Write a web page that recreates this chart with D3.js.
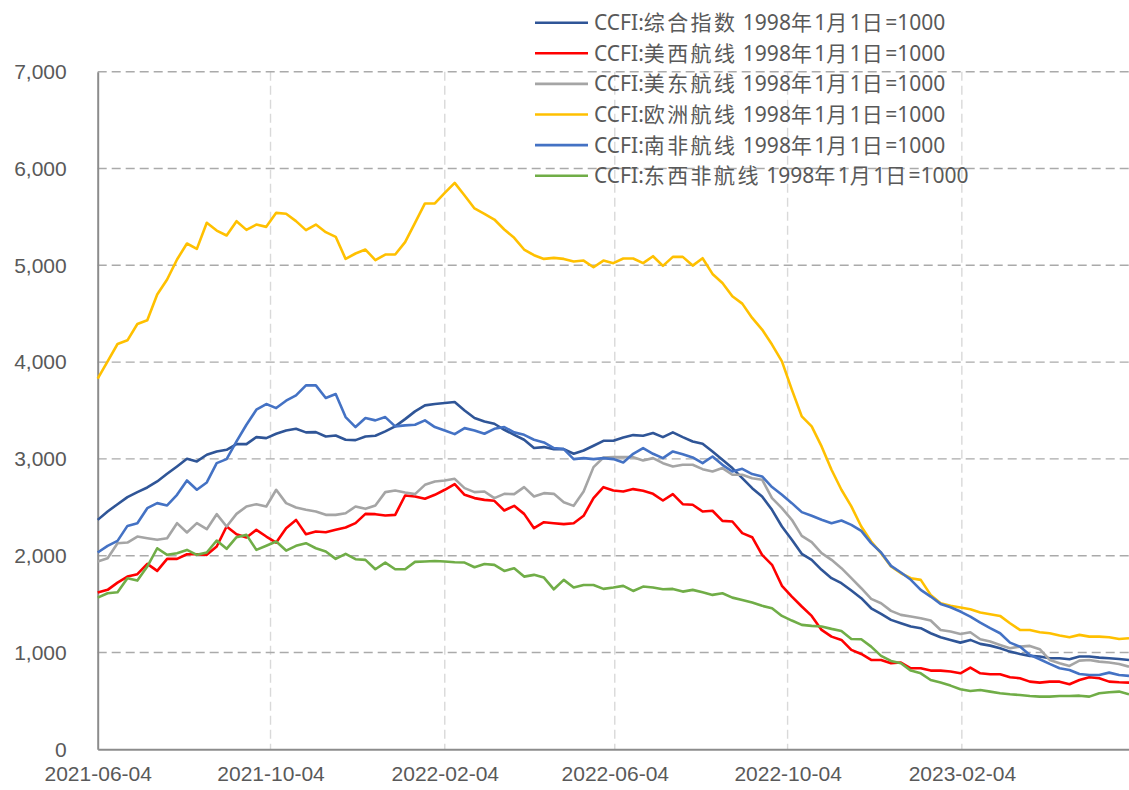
<!DOCTYPE html>
<html>
<head>
<meta charset="utf-8">
<script src="https://cdn.jsdelivr.net/npm/d3@7"></script>
<style>
  html, body { margin: 0; padding: 0; background: #fff; }
  svg { display: block; font-family: "Noto Sans", "Noto Sans CJK SC", sans-serif; }
</style>
</head>
<body>
<svg id="chart" width="1129" height="790"></svg>
<script>
// Weekly CCFI readings (Fridays), 2021-06-04 .. 2023-06-02
const startDate = new Date(2021, 5, 4);
const weekCount = 105;
const dates = d3.range(weekCount).map(i => d3.timeDay.offset(startDate, 7 * i));

const xTickLabels = ["2021-06-04", "2021-10-04", "2022-02-04", "2022-06-04", "2022-10-04", "2023-02-04"];
const yTickValues = [0, 1000, 2000, 3000, 4000, 5000, 6000, 7000];

const seriesNames = [
  "CCFI:综合指数 1998年1月1日=1000",
  "CCFI:美西航线 1998年1月1日=1000",
  "CCFI:美东航线 1998年1月1日=1000",
  "CCFI:欧洲航线 1998年1月1日=1000",
  "CCFI:南非航线 1998年1月1日=1000",
  "CCFI:东西非航线 1998年1月1日=1000"
];
const seriesColors = ["#2F5597", "#FF0000", "#A5A5A5", "#FFC000", "#4472C4", "#70AD47"];

const composite = [
  2370, 2457, 2532, 2605, 2657, 2705, 2767, 2846, 2922, 3001,
  2974, 3043, 3077, 3094, 3153, 3153, 3225, 3215, 3260, 3294,
  3311, 3274, 3277, 3232, 3242, 3198, 3194, 3232, 3239, 3284,
  3336, 3411, 3491, 3553, 3567, 3577, 3587, 3500, 3422, 3387,
  3363, 3301, 3249, 3198, 3112, 3122, 3101, 3101, 3053, 3087,
  3136, 3187, 3187, 3222, 3246, 3239, 3267, 3225, 3274, 3225,
  3180, 3156, 3077, 2991, 2905, 2801, 2698, 2612, 2474, 2302,
  2164, 2019, 1957, 1854, 1768, 1716, 1640, 1561, 1457, 1399,
  1337, 1302, 1268, 1251, 1199, 1158, 1130, 1102, 1130, 1089,
  1071, 1044, 1009, 985, 965, 958, 940, 940, 930, 958,
  958, 947, 940, 933, 923
];
const usWest = [
  1619, 1647, 1722, 1784, 1809, 1915, 1843, 1967, 1967, 2015,
  2015, 2009, 2095, 2302, 2222, 2188, 2267, 2198, 2136, 2284,
  2370, 2222, 2250, 2243, 2267, 2291, 2336, 2432, 2429, 2415,
  2422, 2622, 2612, 2588, 2629, 2681, 2739, 2629, 2595, 2577,
  2567, 2467, 2515, 2432, 2284, 2346, 2336, 2326, 2336, 2412,
  2595, 2708, 2674, 2663, 2688, 2670, 2639, 2570, 2636, 2532,
  2526, 2457, 2464, 2360, 2353, 2233, 2191, 2009, 1906, 1689,
  1578, 1475, 1378, 1233, 1164, 1130, 1027, 985, 923, 923,
  889, 896, 837, 837, 813, 813, 803, 785, 844, 785,
  775, 775, 744, 734, 699, 689, 699, 699, 672, 716,
  744, 734, 699, 692, 689
];
const usEast = [
  1940, 1974, 2129, 2136, 2198, 2181, 2164, 2181, 2336, 2240,
  2336, 2274, 2429, 2302, 2432, 2508, 2532, 2508, 2681, 2543,
  2498, 2474, 2457, 2422, 2422, 2439, 2508, 2484, 2519, 2657,
  2674, 2653, 2636, 2732, 2767, 2777, 2794, 2698, 2657, 2663,
  2595, 2639, 2636, 2708, 2612, 2646, 2639, 2553, 2515, 2663,
  2915, 3015, 3018, 3018, 3018, 2984, 3008, 2956, 2922, 2939,
  2939, 2894, 2870, 2905, 2836, 2836, 2801, 2785, 2595, 2491,
  2371, 2205, 2140, 2026, 1957, 1871, 1768, 1664, 1554, 1509,
  1430, 1389, 1371, 1354, 1330, 1233, 1216, 1192, 1209, 1137,
  1113, 1078, 1044, 1061, 1068, 1034, 923, 889, 861, 916,
  923, 906, 896, 882, 854
];
const europe = [
  3829, 4008, 4187, 4225, 4394, 4432, 4698, 4853, 5060, 5225,
  5170, 5439, 5359, 5308, 5456, 5366, 5421, 5397, 5542, 5532,
  5456, 5363, 5421, 5342, 5294, 5066, 5122, 5163, 5053, 5111,
  5111, 5239, 5439, 5639, 5639, 5749, 5852, 5721, 5587, 5532,
  5473, 5370, 5284, 5163, 5104, 5066, 5077, 5066, 5039, 5049,
  4980, 5049, 5022, 5070, 5070, 5022, 5094, 4994, 5087, 5087,
  4997, 5073, 4911, 4818, 4680, 4604, 4456, 4336, 4181, 4008,
  3715, 3439, 3336, 3129, 2888, 2681, 2509, 2302, 2147, 2026,
  1888, 1819, 1768, 1750, 1595, 1509, 1482, 1464, 1447, 1413,
  1395, 1378, 1302, 1233, 1233, 1209, 1199, 1175, 1158, 1182,
  1164, 1164, 1158, 1140, 1147
];
const southAfrica = [
  2033, 2102, 2153, 2308, 2336, 2491, 2543, 2519, 2629, 2777,
  2681, 2757, 2956, 2998, 3180, 3353, 3508, 3567, 3525, 3601,
  3656, 3760, 3760, 3629, 3670, 3432, 3329, 3422, 3398, 3432,
  3336, 3346, 3353, 3398, 3329, 3294, 3256, 3318, 3294, 3260,
  3311, 3329, 3274, 3249, 3198, 3170, 3112, 3101, 2998, 3008,
  2998, 3008, 2998, 2963, 3053, 3112, 3053, 3008, 3077, 3049,
  3015, 2956, 3025, 2939, 2870, 2898, 2843, 2819, 2709, 2629,
  2543, 2450, 2412, 2371, 2336, 2364, 2319, 2257, 2130, 2033,
  1895, 1826, 1751, 1647, 1578, 1502, 1468, 1423, 1371, 1309,
  1251, 1199, 1102, 1061, 975, 930, 882, 837, 820, 778,
  768, 768, 792, 768, 758
];
const eastWestAfrica = [
  1567, 1612, 1622, 1767, 1743, 1888, 2077, 2009, 2026, 2060,
  2009, 2033, 2157, 2071, 2191, 2215, 2060, 2102, 2146, 2053,
  2102, 2129, 2077, 2043, 1967, 2019, 1964, 1957, 1860, 1929,
  1860, 1860, 1936, 1940, 1946, 1940, 1933, 1929, 1881, 1915,
  1905, 1843, 1871, 1784, 1802, 1774, 1653, 1750, 1671, 1698,
  1698, 1657, 1671, 1688, 1636, 1681, 1671, 1653, 1657, 1629,
  1647, 1622, 1595, 1612, 1567, 1543, 1516, 1482, 1458, 1378,
  1330, 1285, 1275, 1268, 1244, 1223, 1140, 1137, 1061, 965,
  913, 889, 813, 785, 716, 689, 658, 620, 603, 613,
  596, 579, 568, 561, 551, 544, 544, 551, 551, 554,
  544, 579, 589, 596, 568
];

const seriesValues = [composite, usWest, usEast, europe, southAfrica, eastWestAfrica];

// ---- layout ----
const svg = d3.select("#chart");
const plot = { left: 97.7, right: 1129, top: 71.7, bottom: 749.3 };
const textColor = "#595959";
const parseDay = d3.timeParse("%Y-%m-%d");
const fmtDay = d3.timeFormat("%Y-%m-%d");

const x = d3.scaleTime()
  .domain([dates[0], dates[dates.length - 1]])
  .range([plot.left, plot.right]);
const y = d3.scaleLinear()
  .domain([0, 7000])
  .range([plot.bottom, plot.top]);

const xTicks = xTickLabels.map(parseDay);

// vertical gridlines
svg.append("g")
  .selectAll("line")
  .data(xTicks.slice(1))
  .join("line")
  .attr("x1", d => x(d)).attr("x2", d => x(d))
  .attr("y1", plot.top).attr("y2", plot.bottom)
  .attr("stroke", "#d9d9d9")
  .attr("stroke-width", 1.4)
  .attr("stroke-dasharray", "9,5");

// horizontal gridlines
svg.append("g")
  .selectAll("line")
  .data(yTickValues.slice(1))
  .join("line")
  .attr("x1", plot.left).attr("x2", plot.right)
  .attr("y1", d => y(d)).attr("y2", d => y(d))
  .attr("stroke", "#aaaaaa")
  .attr("stroke-width", 1.4)
  .attr("stroke-dasharray", "9,5");

// y axis
const yAxis = svg.append("g")
  .attr("transform", `translate(${plot.left},0)`)
  .call(d3.axisLeft(y).tickValues(yTickValues).tickFormat(d3.format(",")).tickSize(0).tickPadding(31));
yAxis.select(".domain").attr("stroke", "#8c8c8c").attr("stroke-width", 2);
yAxis.selectAll("text").attr("fill", textColor).attr("font-size", 21);

// x axis
const xAxis = svg.append("g")
  .attr("transform", `translate(0,${plot.bottom})`)
  .call(d3.axisBottom(x).tickValues(xTicks).tickFormat(fmtDay).tickSize(0).tickPadding(16.5));
xAxis.select(".domain").attr("stroke", "#8c8c8c").attr("stroke-width", 2);
xAxis.selectAll("text").attr("fill", textColor).attr("font-size", 21);

// series lines
const line = d3.line()
  .x((d, i) => x(dates[i]))
  .y(d => y(d));

svg.append("g")
  .selectAll("path")
  .data(seriesValues)
  .join("path")
  .attr("d", d => line(d))
  .attr("fill", "none")
  .attr("stroke", (d, i) => seriesColors[i])
  .attr("stroke-width", 2.6)
  .attr("stroke-linejoin", "round");

// legend: CJK runs get a little extra tracking so the ideographs sit wide
const cjk = /[\u3000-\u9fff]/;
function runs(str) {
  const out = [];
  for (const ch of str) {
    const isCjk = cjk.test(ch);
    const last = out[out.length - 1];
    if (last && last.cjk === isCjk) last.text += ch;
    else out.push({ text: ch, cjk: isCjk });
  }
  return out;
}

const legend = svg.append("g").attr("transform", "translate(535,22.7)");
const item = legend.selectAll("g")
  .data(seriesNames)
  .join("g")
  .attr("transform", (d, i) => `translate(0,${i * 30.6})`);
item.append("line")
  .attr("x1", 0).attr("x2", 53)
  .attr("stroke", (d, i) => seriesColors[i])
  .attr("stroke-width", 2.6);
item.append("text")
  .attr("x", 59)
  .attr("dy", "0.36em")
  .attr("fill", textColor)
  .attr("font-size", 21)
  .selectAll("tspan")
  .data(d => runs(d))
  .join("tspan")
  .attr("font-family", r => r.cjk ? "'Noto Sans CJK SC', sans-serif" : null)
  .attr("letter-spacing", r => r.cjk ? 2.4 : null)
  .text(r => r.text);
</script>
</body>
</html>
